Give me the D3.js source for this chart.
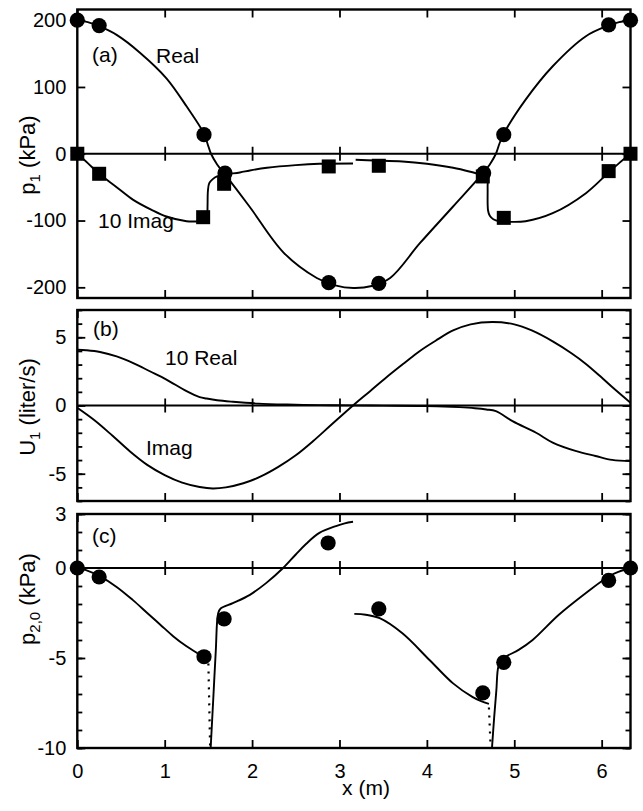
<!DOCTYPE html>
<html>
<head>
<meta charset="utf-8">
<script src="https://cdn.jsdelivr.net/npm/d3@7"></script>
<style>
  body { margin: 0; background: #fff; }
  svg { display: block; }
  text { font-family: "Liberation Sans", Arial, Helvetica, sans-serif; fill: #000; }
</style>
</head>
<body>
<svg id="chart" width="643" height="811"></svg>
<script>
// ---------- x axis ----------
const xTicks = [0, 1, 2, 3, 4, 5, 6];
const xMax = 6.33;

// ---------- panel (a): p1 (kPa) ----------
const aTicks = [-200, -100, 0, 100, 200];
// Real part, continuous
const aRealX = [0, 0.12, 0.25, 0.45, 0.72, 1.02, 1.25, 1.45, 1.49, 1.53, 1.60, 1.69, 1.97, 2.36, 2.74, 2.95, 3.16, 3.37, 3.58, 3.92, 4.30, 4.63, 4.72, 4.79, 4.83, 4.88, 5.13, 5.44, 5.82, 6.08, 6.20, 6.33];
const aRealY = [200, 197, 191, 178, 151, 113, 71, 30, 15, 0, -16, -31, -79, -148, -186, -197, -201, -198, -186, -134, -79, -31, -16, 0, 15, 30, 81, 131, 176, 192, 197, 200];
// 10 x Imaginary part, two branches
const aImag1X = [0, 0.12, 0.25, 0.45, 0.64, 0.85, 1.02, 1.25, 1.40, 1.46, 1.485, 1.49, 1.495, 1.51, 1.55, 1.60, 1.69, 1.86, 1.975, 2.17, 2.5, 2.77, 3.155];
const aImag1Y = [0, -14, -30, -50, -69, -84, -94, -101, -101, -100, -96, -80, -55, -44, -38, -34, -31, -28, -25, -21, -17, -15, -14.5];
const aImag2X = [3.185, 3.4, 3.72, 4.0, 4.30, 4.50, 4.64, 4.69, 4.695, 4.70, 4.72, 4.76, 4.83, 4.95, 5.13, 5.44, 5.82, 6.08, 6.20, 6.33];
const aImag2Y = [-9, -10, -11.5, -15, -21, -27, -32, -35, -50, -85, -93, -98, -101, -102, -101, -89, -59, -28, -14, 0];
// measured points
const aCircleX = [0, 0.25, 1.45, 1.69, 2.877, 3.45, 4.65, 4.88, 6.08, 6.33];
const aCircleY = [200, 192, 28.5, -29, -193, -194, -29, 28.5, 193, 200];
const aSquareX = [0, 0.25, 1.44, 1.68, 2.877, 3.45, 4.64, 4.88, 6.08, 6.33];
const aSquareY = [0, -30, -95, -45, -19, -18, -34, -96, -26, 0];

// ---------- panel (b): U1 (liter/s) ----------
const bTicks = [-5, 0, 5];
const bMinor = [-7, -6, -5, -4, -3, -2, -1, 0, 1, 2, 3, 4, 5, 6, 7];
const bRealX = [0, 0.1, 0.26, 0.45, 0.64, 0.83, 1.02, 1.25, 1.40, 1.48, 1.60, 1.78, 2.07, 2.4, 2.77, 3.1, 3.5, 3.9, 4.2, 4.37, 4.55, 4.68, 4.79, 4.98, 5.25, 5.44, 5.70, 5.93, 6.12, 6.33];
const bRealY = [4.09, 4.05, 3.92, 3.6, 3.11, 2.51, 1.9, 1.05, 0.62, 0.51, 0.38, 0.27, 0.14, 0.07, 0.03, 0.01, -0.01, -0.04, -0.07, -0.12, -0.2, -0.29, -0.41, -1.15, -2.0, -2.72, -3.33, -3.7, -3.99, -4.08];
const bImagX = [0, 0.2, 0.4, 0.6, 0.8, 1.0, 1.2, 1.4, 1.55, 1.7, 1.9, 2.1, 2.3, 2.5, 2.7, 2.9, 3.155, 3.35, 3.535, 3.75, 3.92, 4.1, 4.3, 4.5, 4.75, 5.0, 5.2, 5.44, 5.65, 5.82, 6.0, 6.12, 6.33];
const bImagY = [-0.17, -1.1, -2.2, -3.35, -4.35, -5.1, -5.65, -5.97, -6.08, -6.0, -5.7, -5.2, -4.5, -3.65, -2.6, -1.45, 0, 1.05, 2.05, 3.15, 4.0, 4.75, 5.5, 5.95, 6.12, 5.95, 5.5, 4.7, 3.85, 3.05, 2.05, 1.35, 0.2];

// ---------- panel (c): p2,0 (kPa) ----------
const cTicks = [-10, -5, 0, 3];
const cMinor = [-10, -9, -8, -7, -6, -5, -4, -3, -2, -1, 0, 1, 2, 3];
const cSeg1X = [0, 0.1, 0.26, 0.45, 0.64, 0.8, 0.95, 1.1, 1.25, 1.38, 1.50];
const cSeg1Y = [0, -0.12, -0.47, -1.05, -1.8, -2.5, -3.15, -3.8, -4.35, -4.75, -5.15];
const cSeg2X = [1.526, 1.555, 1.585, 1.612, 1.64, 1.78, 1.975, 2.16, 2.355, 2.5, 2.62, 2.77, 2.96, 3.06, 3.155];
const cSeg2Y = [-10, -7.35, -4.56, -2.51, -2.25, -1.95, -1.49, -0.84, 0, 0.75, 1.35, 1.95, 2.33, 2.48, 2.57];
const cSeg3X = [3.17, 3.30, 3.46, 3.72, 4.03, 4.30, 4.52, 4.62, 4.71];
const cSeg3Y = [-2.55, -2.6, -2.79, -3.63, -5.11, -6.41, -7.16, -7.4, -7.55];
const cSeg4X = [4.745, 4.77, 4.795, 4.82, 4.86, 4.905, 5.05, 5.21, 5.51, 5.82, 6.08, 6.20, 6.33];
const cSeg4Y = [-10, -8.3, -6.8, -5.45, -5.15, -4.93, -4.55, -4.0, -2.6, -1.39, -0.47, -0.2, 0];
const cDot1X = [1.50, 1.52];
const cDot1Y = [-5.3, -10];
const cDot2X = [4.71, 4.73];
const cDot2Y = [-7.75, -10];
const cCircleX = [0, 0.25, 1.45, 1.68, 2.87, 3.45, 4.64, 4.88, 6.08, 6.33];
const cCircleY = [0, -0.5, -4.93, -2.83, 1.39, -2.27, -6.94, -5.24, -0.69, 0];

// ---------- layout ----------
const svg = d3.select("#chart");
const L = 77.3, R = 630.5;
const x = d3.scaleLinear().domain([0, xMax]).range([L, R]);
const zip = (xs, ys) => xs.map((v, i) => [v, ys[i]]);
const plainNum = d => String(d); // hyphen-minus, as typeset on the axes

const panels = [
  { id: "a", top: 9.5, bottom: 298, domain: [-216, 216], ticks: aTicks, minor: null },
  { id: "b", top: 310, bottom: 501, domain: [-7, 7], ticks: bTicks, minor: bMinor },
  { id: "c", top: 514, bottom: 748, domain: [-10, 3], ticks: cTicks, minor: cMinor }
];

const tickFont = 20, labelFont = 21;

panels.forEach(p => {
  p.y = d3.scaleLinear().domain(p.domain).range([p.bottom, p.top]);
  const g = svg.append("g").attr("class", "panel-" + p.id);
  p.g = g;

  g.append("clipPath").attr("id", "clip-" + p.id)
    .append("rect").attr("x", L).attr("y", p.top).attr("width", R - L).attr("height", p.bottom - p.top);

  // zero line
  g.append("line").attr("x1", L).attr("x2", R)
    .attr("y1", p.y(0)).attr("y2", p.y(0))
    .attr("stroke", "#000").attr("stroke-width", 2);

  const styleAxis = sel => {
    sel.select(".domain").remove();
    sel.selectAll(".tick line").attr("stroke", "#000").attr("stroke-width", 1.8);
    sel.selectAll(".tick text").attr("font-size", tickFont).attr("fill", "#000")
      .attr("font-family", "Liberation Sans, Arial, sans-serif");
  };

  // x ticks: top (pointing in), bottom (pointing in), crossing zero line
  g.append("g").attr("transform", `translate(0,${p.top})`)
    .call(d3.axisBottom(x).tickValues(xTicks).tickSize(8).tickFormat("")).call(styleAxis);
  g.append("g").attr("transform", `translate(0,${p.y(0)})`)
    .call(d3.axisBottom(x).tickValues(xTicks.slice(1)).tickSize(7).tickFormat("")).call(styleAxis);
  g.append("g").attr("transform", `translate(0,${p.y(0)})`)
    .call(d3.axisTop(x).tickValues(xTicks.slice(1)).tickSize(7).tickFormat("")).call(styleAxis);
  const bottomAxis = d3.axisBottom(x).tickValues(xTicks).tickSizeInner(-8).tickSizeOuter(0);
  if (p.id === "c") bottomAxis.tickPadding(16).tickFormat(plainNum);
  else bottomAxis.tickFormat("");
  g.append("g").attr("transform", `translate(0,${p.bottom})`).call(bottomAxis).call(styleAxis);

  // y ticks
  if (p.minor) {
    g.append("g").attr("transform", `translate(${L},0)`)
      .call(d3.axisRight(p.y).tickValues(p.minor).tickSize(5).tickFormat("")).call(styleAxis);
    g.append("g").attr("transform", `translate(${R},0)`)
      .call(d3.axisLeft(p.y).tickValues(p.minor).tickSize(5).tickFormat("")).call(styleAxis);
  }
  g.append("g").attr("transform", `translate(${L},0)`)
    .call(d3.axisLeft(p.y).tickValues(p.ticks).tickSizeInner(-8).tickSizeOuter(0).tickPadding(11)
      .tickFormat(plainNum)).call(styleAxis);
  g.append("g").attr("transform", `translate(${R},0)`)
    .call(d3.axisRight(p.y).tickValues(p.ticks).tickSizeInner(-8).tickSizeOuter(0).tickFormat(""))
    .call(styleAxis);

  // frame
  g.append("rect").attr("x", L).attr("y", p.top).attr("width", R - L).attr("height", p.bottom - p.top)
    .attr("fill", "none").attr("stroke", "#000").attr("stroke-width", 2.4);
});

const drawLine = (p, xs, ys, dotted) => {
  const line = d3.line().x(d => x(d[0])).y(d => p.y(d[1])).curve(d3.curveCatmullRom.alpha(0.5));
  p.g.append("path").datum(zip(xs, ys))
    .attr("d", line)
    .attr("fill", "none").attr("stroke", "#000")
    .attr("stroke-width", dotted ? 2.2 : 1.9)
    .attr("stroke-linejoin", "round")
    .attr("stroke-dasharray", dotted ? "2,6" : null)
    .attr("clip-path", `url(#clip-${p.id})`);
};
const drawCircles = (p, xs, ys) => {
  p.g.append("g").selectAll("circle").data(zip(xs, ys)).join("circle")
    .attr("cx", d => x(d[0])).attr("cy", d => p.y(d[1])).attr("r", 7.6).attr("fill", "#000");
};
const drawSquares = (p, xs, ys) => {
  const s = 14;
  p.g.append("g").selectAll("rect").data(zip(xs, ys)).join("rect")
    .attr("x", d => x(d[0]) - s / 2).attr("y", d => p.y(d[1]) - s / 2)
    .attr("width", s).attr("height", s).attr("fill", "#000");
};
const label = (p, txt, tx, ty) => {
  p.g.append("text").attr("x", tx).attr("y", ty).attr("font-size", labelFont).text(txt);
};

const [pa, pb, pc] = panels;

// (a)
drawLine(pa, aRealX, aRealY);
drawLine(pa, aImag1X, aImag1Y);
drawLine(pa, aImag2X, aImag2Y);
drawSquares(pa, aSquareX, aSquareY);
drawCircles(pa, aCircleX, aCircleY);
label(pa, "(a)", 92, 62);
label(pa, "Real", 156, 63);
label(pa, "10 Imag", 98, 228);

// (b)
drawLine(pb, bRealX, bRealY);
drawLine(pb, bImagX, bImagY);
label(pb, "(b)", 93, 336);
label(pb, "10 Real", 165, 365);
label(pb, "Imag", 146, 455);

// (c)
drawLine(pc, cSeg1X, cSeg1Y);
drawLine(pc, cSeg2X, cSeg2Y);
drawLine(pc, cSeg3X, cSeg3Y);
drawLine(pc, cSeg4X, cSeg4Y);
drawLine(pc, cDot1X, cDot1Y, true);
drawLine(pc, cDot2X, cDot2Y, true);
drawCircles(pc, cCircleX, cCircleY);
label(pc, "(c)", 92, 543);

// axis titles
const yTitle = (cy, main, sub, rest) => {
  const t = svg.append("text")
    .attr("transform", `translate(35,${cy}) rotate(-90)`)
    .attr("text-anchor", "middle").attr("font-size", 22);
  t.append("tspan").text(main);
  t.append("tspan").attr("font-size", 15).attr("dy", 5).text(sub);
  t.append("tspan").attr("dy", -5).text(rest);
};
yTitle(155, "p", "1", "\u00a0(kPa)");
yTitle(407, "U", "1", "\u00a0(liter/s)");
yTitle(599, "p", "2,0", "\u00a0(kPa)");

svg.append("text").attr("x", 366).attr("y", 795).attr("text-anchor", "middle")
  .attr("font-size", labelFont).text("x (m)");
</script>
</body>
</html>
